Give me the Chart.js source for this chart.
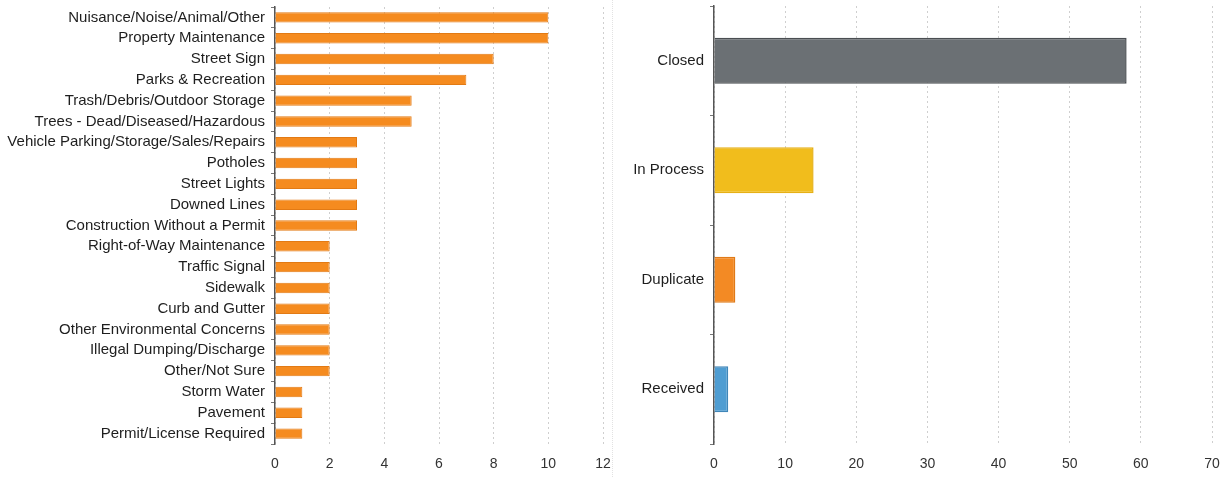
<!DOCTYPE html>
<html>
<head>
<meta charset="utf-8">
<title>Service requests</title>
<script src="https://cdn.jsdelivr.net/npm/chart.js@4.4.1/dist/chart.umd.min.js"></script>
<style>
  html, body { margin: 0; padding: 0; background: #fff; }
  #leftBox { position: absolute; left: 0; top: 0; width: 615px; height: 477px; }
  #rightBox { position: absolute; left: 615px; top: 0; width: 616px; height: 477px; }
  #divider { position: absolute; left: 612px; top: 0; width: 0; height: 477px; border-left: 1px dotted #e2e2e2; }
</style>
</head>
<body>
<div id="leftBox"><canvas id="issueChart"></canvas></div>
<div id="rightBox"><canvas id="statusChart"></canvas></div>
<div id="divider"></div>
<script>
// Requests by issue type
const issueLabels = [
  "Nuisance/Noise/Animal/Other",
  "Property Maintenance",
  "Street Sign",
  "Parks & Recreation",
  "Trash/Debris/Outdoor Storage",
  "Trees - Dead/Diseased/Hazardous",
  "Vehicle Parking/Storage/Sales/Repairs",
  "Potholes",
  "Street Lights",
  "Downed Lines",
  "Construction Without a Permit",
  "Right-of-Way Maintenance",
  "Traffic Signal",
  "Sidewalk",
  "Curb and Gutter",
  "Other Environmental Concerns",
  "Illegal Dumping/Discharge",
  "Other/Not Sure",
  "Storm Water",
  "Pavement",
  "Permit/License Required"
];
const issueCounts = [10, 10, 8, 7, 5, 5, 3, 3, 3, 3, 3, 2, 2, 2, 2, 2, 2, 2, 1, 1, 1];
const issueTicks = [0, 2, 4, 6, 8, 10, 12];

// Requests by status
const statusLabels = ["Closed", "In Process", "Duplicate", "Received"];
const statusCounts = [58, 14, 3, 2];
const statusTicks = [0, 10, 20, 30, 40, 50, 60, 70];

const statusFill = ["#6b7074", "#f1bd1c", "#f38a24", "#4f9dd2"];
const statusEdge = ["#4a4e52", "#e6b015", "#e07a18", "#3f86b8"];

const labelFont = { family: "'Liberation Sans', Arial, sans-serif", size: 15 };
const tickFont = { family: "'Liberation Sans', Arial, sans-serif", size: 14 };

function baseOptions(axisWidth, ticks, topPad, rightPad) {
  return {
    indexAxis: "y",
    responsive: true,
    maintainAspectRatio: false,
    animation: false,
    layout: { padding: { top: topPad, right: rightPad, bottom: 0, left: 0 } },
    plugins: { legend: { display: false }, tooltip: { enabled: false } },
    scales: {
      x: {
        min: ticks[0],
        max: ticks[ticks.length - 1],
        afterBuildTicks: (scale) => { scale.ticks = ticks.map(v => ({ value: v })); },
        afterFit: (scale) => {
          scale.height = 33;
          scale.paddingLeft = 0;
          scale.paddingRight = 0;
        },
        border: { display: false, dash: [2, 3] },
        grid: { color: "#cfcfcf", lineWidth: 1, drawTicks: false },
        ticks: { color: "#333", font: tickFont, padding: 12 }
      },
      y: {
        afterFit: (scale) => {
          scale.width = axisWidth;
          scale.paddingTop = 0;
          scale.paddingBottom = 0;
        },
        border: { display: true, color: "#555", width: 1.5 },
        grid: { drawOnChartArea: false, drawTicks: true, tickLength: 4, color: "#777" },
        ticks: { color: "#1e1e1e", font: labelFont, padding: 6, autoSkip: false }
      }
    }
  };
}

new Chart(document.getElementById("issueChart"), {
  type: "bar",
  data: {
    labels: issueLabels,
    datasets: [{
      data: issueCounts,
      backgroundColor: "#f58b1f",
      borderColor: "#e27a14",
      borderWidth: 1,
      categoryPercentage: 1,
      barPercentage: 0.5
    }]
  },
  options: baseOptions(275, issueTicks, 7, 12)
});

new Chart(document.getElementById("statusChart"), {
  type: "bar",
  data: {
    labels: statusLabels,
    datasets: [{
      data: statusCounts,
      backgroundColor: statusFill,
      borderColor: statusEdge,
      borderWidth: 1.5,
      categoryPercentage: 1,
      barPercentage: 0.42
    }]
  },
  options: baseOptions(99, statusTicks, 6, 19)
});
</script>
</body>
</html>
